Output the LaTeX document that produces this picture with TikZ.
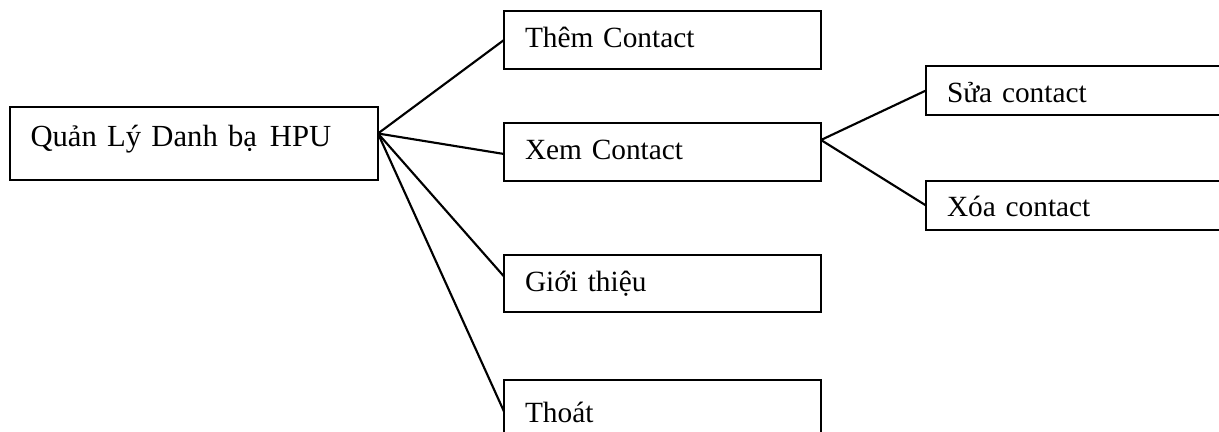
\documentclass[tikz,border=0pt]{standalone}
\usepackage{fontspec}
\setmainfont{Liberation Serif}

% one unit of the drawing
\newlength\px
\setlength\px{0.375pt}

\tikzset{
  menubox/.style={draw, line width=0.6pt, anchor=north west, outer sep=0pt,
    inner ysep=0pt, inner xsep=21\px, text width=275\px, align=left,
    font=\fontsize{11}{13}\selectfont, text height=37\px, text depth=21\px},
  link/.style={line width=0.8pt}
}

\begin{document}
\begin{tikzpicture}[x=1\px,y=-1\px]
    \path[use as bounding box, clip] (0,0) rectangle (1219,432);

    % main menu
    \node[menubox, inner xsep=20.5\px, text width=327\px, text height=40\px,
          text depth=33\px, font=\fontsize{11.5}{14}\selectfont] (root) at (10,107) {Quản Lý Danh bạ\hspace{1pt} HPU};

    \node[menubox] (them)  at (504,11)  {Thêm Contact};
    \node[menubox] (xem)   at (504,123) {Xem Contact};
    \node[menubox, text depth=20\px] (gioi) at (504,255) {Giới thiệu};
    \node[menubox, text height=43\px, text depth=20\px] (thoat) at (504,380) {Thoát};

    % sub menu of xem
    \node[menubox, text depth=12\px] (sua) at (926,66)  {Sửa contact};
    \node[menubox, text height=36\px, text depth=13\px] (xoa) at (926,181) {Xóa contact};

    \draw[link] ([yshift=10\px]root.east) -- (them.west);
    \draw[link] ([yshift=10\px]root.east) -- ([yshift=-2\px]xem.west);
    \draw[link] ([yshift=10\px]root.east) -- ([yshift=7\px]gioi.west);
    \draw[link] ([yshift=10\px]root.east) -- (thoat.west);
    \draw[link] ([yshift=12\px]xem.east) -- (sua.west);
    \draw[link] ([yshift=12\px]xem.east) -- (xoa.west);
\end{tikzpicture}
\end{document}
